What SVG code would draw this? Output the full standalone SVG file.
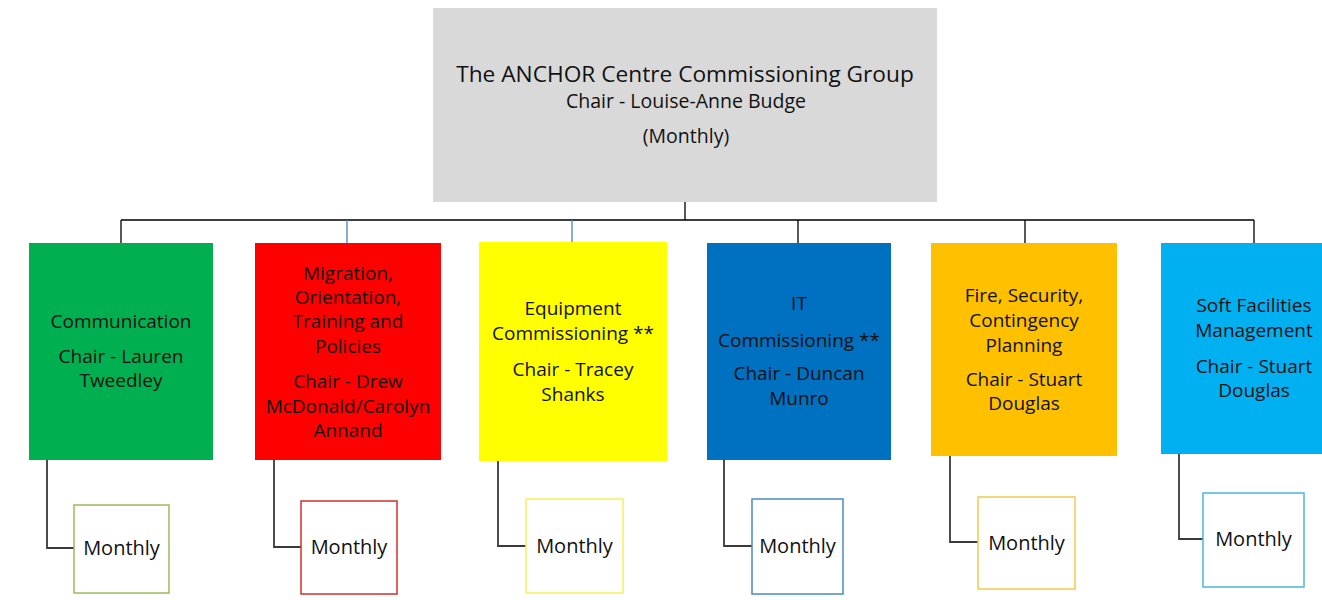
<svg xmlns="http://www.w3.org/2000/svg" width="1322" height="600" viewBox="0 0 1322 600">
<style>
  text { font-family: "Open Sans", "Liberation Sans", sans-serif; fill: #111; text-anchor: middle; }
  .t { font-size: 19px; }
  .big { font-size: 22.7px; }
  .sub { font-size: 19.5px; }
  .mo { font-size: 20px; }
  .ln { stroke: #000; stroke-width: 1.3; fill: none; }
  .lb { stroke: #4f81bd; stroke-width: 1.3; fill: none; }
  .lg { stroke: #3a3a3a; stroke-width: 1.8; fill: none; }
  .mbox { fill: #fff; stroke-width: 1.5; }
</style>
<rect width="1322" height="600" fill="#fff"/>
<g id="connectors">
  <path class="ln" d="M685 202 V220 M121 220 H1254 M121 220 V243 M798 220 V243 M1025 220 V243 M1254 220 V243"/>
  <path class="lb" d="M347 220 V243 M572 220 V242"/>
  <path class="lg" d="M47 460 V548 H74"/>
  <path class="lg" d="M274 460 V547 H301"/>
  <path class="lg" d="M498 461 V546 H526"/>
  <path class="lg" d="M724 460 V546 H752"/>
  <path class="lg" d="M950 456 V542 H978"/>
  <path class="lg" d="M1179 454 V539 H1203"/>
</g>
<g id="top">
  <rect x="433" y="8" width="504" height="194" fill="#d9d9d9"/>
  <text class="big" x="685" y="82">The ANCHOR Centre Commissioning Group</text>
  <text class="sub" x="686" y="108">Chair - Louise-Anne Budge</text>
  <text class="sub" x="686" y="143">(Monthly)</text>
</g>
<g id="communication">
  <rect x="29" y="243" width="184" height="217" fill="#00b050"/>
  <text class="t" x="121" y="328">Communication</text>
  <text class="t" x="121" y="363">Chair - Lauren</text>
  <text class="t" x="121" y="387">Tweedley</text>
</g>
<g id="migration">
  <rect x="255" y="243" width="186" height="217" fill="#ff0000"/>
  <text class="t" x="348" y="280">Migration,</text>
  <text class="t" x="348" y="304">Orientation,</text>
  <text class="t" x="348" y="328">Training and</text>
  <text class="t" x="348" y="353">Policies</text>
  <text class="t" x="348" y="388">Chair - Drew</text>
  <text class="t" x="348" y="413">McDonald/Carolyn</text>
  <text class="t" x="348" y="437">Annand</text>
</g>
<g id="equipment">
  <rect x="479" y="242" width="188" height="219" fill="#ffff00"/>
  <text class="t" x="573" y="315">Equipment</text>
  <text class="t" x="573" y="340">Commissioning **</text>
  <text class="t" x="573" y="376">Chair - Tracey</text>
  <text class="t" x="573" y="401">Shanks</text>
</g>
<g id="it">
  <rect x="707" y="243" width="184" height="217" fill="#0070c0"/>
  <text class="t" x="799" y="310">IT</text>
  <text class="t" x="799" y="347">Commissioning **</text>
  <text class="t" x="799" y="380">Chair - Duncan</text>
  <text class="t" x="799" y="405">Munro</text>
</g>
<g id="fire">
  <rect x="931" y="243" width="186" height="213" fill="#ffc000"/>
  <text class="t" x="1024" y="302">Fire, Security,</text>
  <text class="t" x="1024" y="327">Contingency</text>
  <text class="t" x="1024" y="352">Planning</text>
  <text class="t" x="1024" y="386">Chair - Stuart</text>
  <text class="t" x="1024" y="410">Douglas</text>
</g>
<g id="soft">
  <rect x="1161" y="243" width="170" height="211" fill="#00b0f0"/>
  <text class="t" x="1254" y="312">Soft Facilities</text>
  <text class="t" x="1254" y="337">Management</text>
  <text class="t" x="1254" y="373">Chair - Stuart</text>
  <text class="t" x="1254" y="397">Douglas</text>
</g>
<g id="m1">
  <rect class="mbox" x="74" y="505" width="95" height="88" stroke="#9bbb59"/>
  <text class="mo" x="121.5" y="555">Monthly</text>
</g>
<g id="m2">
  <rect class="mbox" x="301" y="501" width="96" height="93" stroke="#d03030"/>
  <text class="mo" x="349" y="554">Monthly</text>
</g>
<g id="m3">
  <rect class="mbox" x="526" y="499" width="97" height="94" stroke="#f5f060"/>
  <text class="mo" x="574.5" y="553">Monthly</text>
</g>
<g id="m4">
  <rect class="mbox" x="752" y="499" width="91" height="95" stroke="#4a8ac4"/>
  <text class="mo" x="797.5" y="553">Monthly</text>
</g>
<g id="m5">
  <rect class="mbox" x="978" y="497" width="97" height="92" stroke="#f0cc50"/>
  <text class="mo" x="1026.5" y="550">Monthly</text>
</g>
<g id="m6">
  <rect class="mbox" x="1203" y="493" width="101" height="94" stroke="#4bb8d8"/>
  <text class="mo" x="1253.5" y="546">Monthly</text>
</g>
</svg>
